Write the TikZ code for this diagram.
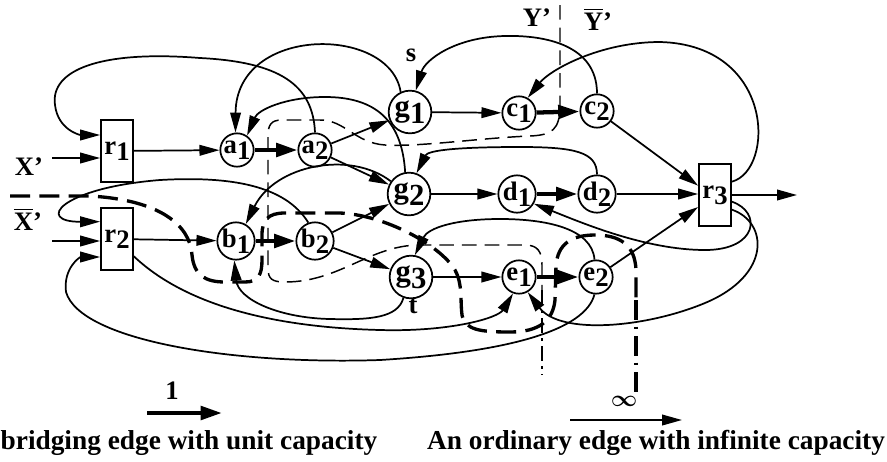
\documentclass[tikz,border=0pt]{standalone}
\usepackage{amsmath,amssymb}
\usepackage{fontspec}
\setmainfont{Liberation Serif}
\usepackage{tikz}
\usetikzlibrary{arrows.meta,calc}
\newcommand\nm[2]{#1\raisebox{-.5ex}{#2}}
\def\bx{\fontsize{20}{20}\selectfont}
\def\bg{\fontsize{23}{23}\selectfont}

\begin{document}
\begin{tikzpicture}[x=0.75pt,y=-0.75pt,line width=1.3pt,
    font=\bfseries\bx,
    >={Triangle[length=15pt,width=8pt]},
    vx/.style={circle,draw,minimum size=25pt,inner sep=0pt},
    gx/.style={circle,draw,minimum size=32pt,inner sep=0pt,font=\bfseries\bg},
    rx/.style={rectangle,draw,minimum width=24pt,minimum height=46pt,inner sep=0pt},
    bridge/.style={line width=3.2pt,-{Triangle[length=16pt,width=10pt]}},
    cutthin/.style={line width=1.1pt,dash pattern=on 11pt off 6pt},
    cutthick/.style={line width=2.5pt,dash pattern=on 15pt off 7pt}]
    \useasboundingbox (0,0) rectangle (887,461);
    % boxes
    \node[rx] (r1) at (117,151) {\nm{r}{1}};
    \node[rx] (r2) at (117,239) {\nm{r}{2}};
    \node[rx] (r3) at (715,195) {\nm{r}{3}};
    % vertices
    \node[vx] (a1) at (237,150) {\nm{a}{1}};
    \node[vx] (a2) at (315,150) {\nm{a}{2}};
    \node[vx] (b1) at (236,241) {\nm{b}{1}};
    \node[vx] (b2) at (315,241) {\nm{b}{2}};
    \node[gx] (g1) at (410,112) {\nm{g}{1}};
    \node[gx] (g2) at (409,194) {\nm{g}{2}};
    \node[gx] (g3) at (411,277) {\nm{g}{3}};
    \node[vx] (c1) at (519,113) {\nm{c}{1}};
    \node[vx] (c2) at (597,111) {\nm{c}{2}};
    \node[vx] (d1) at (517,194) {\nm{d}{1}};
    \node[vx] (d2) at (597,194) {\nm{d}{2}};
    \node[vx] (e1) at (519,277) {\nm{e}{1}};
    \node[vx] (e2) at (596,277) {\nm{e}{2}};
    \coordinate (xin) at (52,158);
    \coordinate (xbin) at (52,241);
    \coordinate (out) at (797,195);
    \node (xl) at (29,167) {X’};
    \node (xbl) at (28,219) {$\overline{\mbox{X}}$’};
    \node (yl) at (537,18) {Y’};
    \node (ybl) at (598,19) {$\overline{\mbox{Y}}$’};
    \node (sl) at (411,55) {s};
    \node (tl) at (413,306) {t};
    % straight edges
    \draw[->] (xin) -- (xin -| r1.west);
    \draw[->] (xbin) -- (xbin -| r2.west);
    \draw[->] (r1) -- (a1);
    \draw[->] (r2) -- (b1);
    \draw[bridge] (a1) -- (a2);
    \draw[bridge] (b1) -- (b2);
    \draw[->] (a2) -- (g1);
    \draw[->] (a2) -- (g2);
    \draw[->] (b2) -- (g2);
    \draw[->] (b2) -- (g3);
    \draw[->] (g1) -- (c1);
    \draw[->] (g2) -- (d1);
    \draw[->] (g3) -- (e1);
    \draw[bridge] (c1) -- (c2);
    \draw[bridge] (d1) -- (d2);
    \draw[bridge] (e1) -- (e2);
    \draw[->] (c2) -- ([yshift=7pt]r3.west);
    \draw[->] (d2) -- (d2 -| r3.west);
    \draw[->] (e2) -- ([yshift=-9pt]r3.west);
    \draw[->] (r3) -- (out);
    % back edges
    \draw[->] (a2.north) .. controls (313,85) and (280,62) .. (200,58) .. controls (100,50) and (50,70) .. (55,105) .. controls (58,130) and (80,135) .. ([yshift=12pt]r1.west);
    \draw[->] (g1.115) .. controls (390,25) and (236,25) .. (a1.95);
    \draw[->] (g2.100) .. controls (402,120) and (375,97) .. (325,97) .. controls (285,97) and (258,110) .. (a1.55);
    \draw[->] (c2.north) .. controls (597,45) and (545,35) .. (505,36) .. controls (455,37) and (425,60) .. (g1.75);
    \draw[->] ([yshift=10pt]r3.east) .. controls (775,170) and (775,45) .. (660,42) .. controls (600,42) and (550,70) .. (c1.60);
    \draw[->] (d2.north) .. controls (597,152) and (575,147) .. (520,147) .. controls (460,147) and (428,150) .. (g2.70);
    \draw[->] (g2.145) .. controls (350,150) and (275,165) .. (b1.60);
    \draw[->] (b2.110) .. controls (285,185) and (230,176) .. (160,180) .. controls (60,188) and (35,222) .. ([yshift=13pt]r2.west);
    \draw[->] (g3.250) .. controls (398,318) and (370,320) .. (330,319) .. controls (280,318) and (238,300) .. (b1.265);
    \draw[->] ([yshift=-13pt]r2.east) .. controls (180,300) and (260,327) .. (380,330) .. controls (450,332) and (498,318) .. (e1.250);
    \draw[->] (e2.265) .. controls (585,330) and (510,352) .. (380,360) .. controls (230,365) and (80,340) .. (66,292) .. controls (63,268) and (80,257) .. ([yshift=-13.5pt]r2.west);
    \draw[->] (e2.95) .. controls (592,228) and (545,219) .. (500,219) .. controls (455,219) and (428,228) .. (g3.80);
    \draw[->] ([yshift=-5pt]r3.east) .. controls (762,212) and (758,250) .. (705,250) .. controls (645,250) and (580,222) .. (d1.330);
    \draw[->] ([yshift=-11pt]r3.east) .. controls (768,222) and (772,275) .. (705,303) .. controls (645,328) and (560,335) .. (e1.300);
    % cut Y'
    \draw[cutthin] (560,5) -- (560,105) .. controls (560,130) and (552,135) .. (530,136) .. controls (480,138) and (420,147) .. (385,145) .. controls (355,143) and (345,120) .. (320,120) -- (282,120) .. controls (271,120) and (268,125) .. (268,136) -- (268,268) .. controls (268,279) and (272,282) .. (285,282) .. controls (340,282) and (370,245) .. (420,245) -- (525,245) .. controls (538,245) and (542,252) .. (542,265) -- (542,290);
    \draw[cutthin,dash pattern=on 11pt off 4pt on 2pt off 4pt] (542,290) -- (542,375);
    % cut X'
    \draw[cutthick] (10,196) -- (90,196) .. controls (160,200) and (190,225) .. (192,255) .. controls (194,275) and (205,282) .. (225,282) -- (245,282) .. controls (258,282) and (262,275) .. (262,260) -- (262,235) .. controls (262,220) and (268,213) .. (285,213) -- (340,213) .. controls (385,215) and (440,245) .. (455,270) .. controls (463,285) and (460,300) .. (462,315) .. controls (465,330) and (480,332) .. (510,332) .. controls (540,332) and (553,320) .. (555,300) -- (556,265) .. controls (558,245) and (570,235) .. (595,235) .. controls (620,235) and (635,245) .. (636,270) -- (636,300);
    \draw[cutthick,dash pattern=on 15pt off 5pt on 2pt off 5pt] (636,300) -- (636,395);
    % legend
    \coordinate (u0) at (147,413);
    \coordinate (u1) at (222,413);
    \draw[bridge] (u0) -- (u1);
    \node (one) at (172,391) {1};
    \node (ulab) at (189,443) {\fontsize{20.5}{21}\selectfont bridging edge with unit capacity};
    \coordinate (i0) at (570,420);
    \coordinate (i1) at (682,420);
    \draw[->] (i0) -- (i1);
    \node (inf) at (624,401) {\fontsize{17}{17}\selectfont$\boldsymbol{\infty}$};
    \node (ilab) at (656,443) {\fontsize{20.5}{21}\selectfont An ordinary edge with infinite capacity};
\end{tikzpicture}
\end{document}
